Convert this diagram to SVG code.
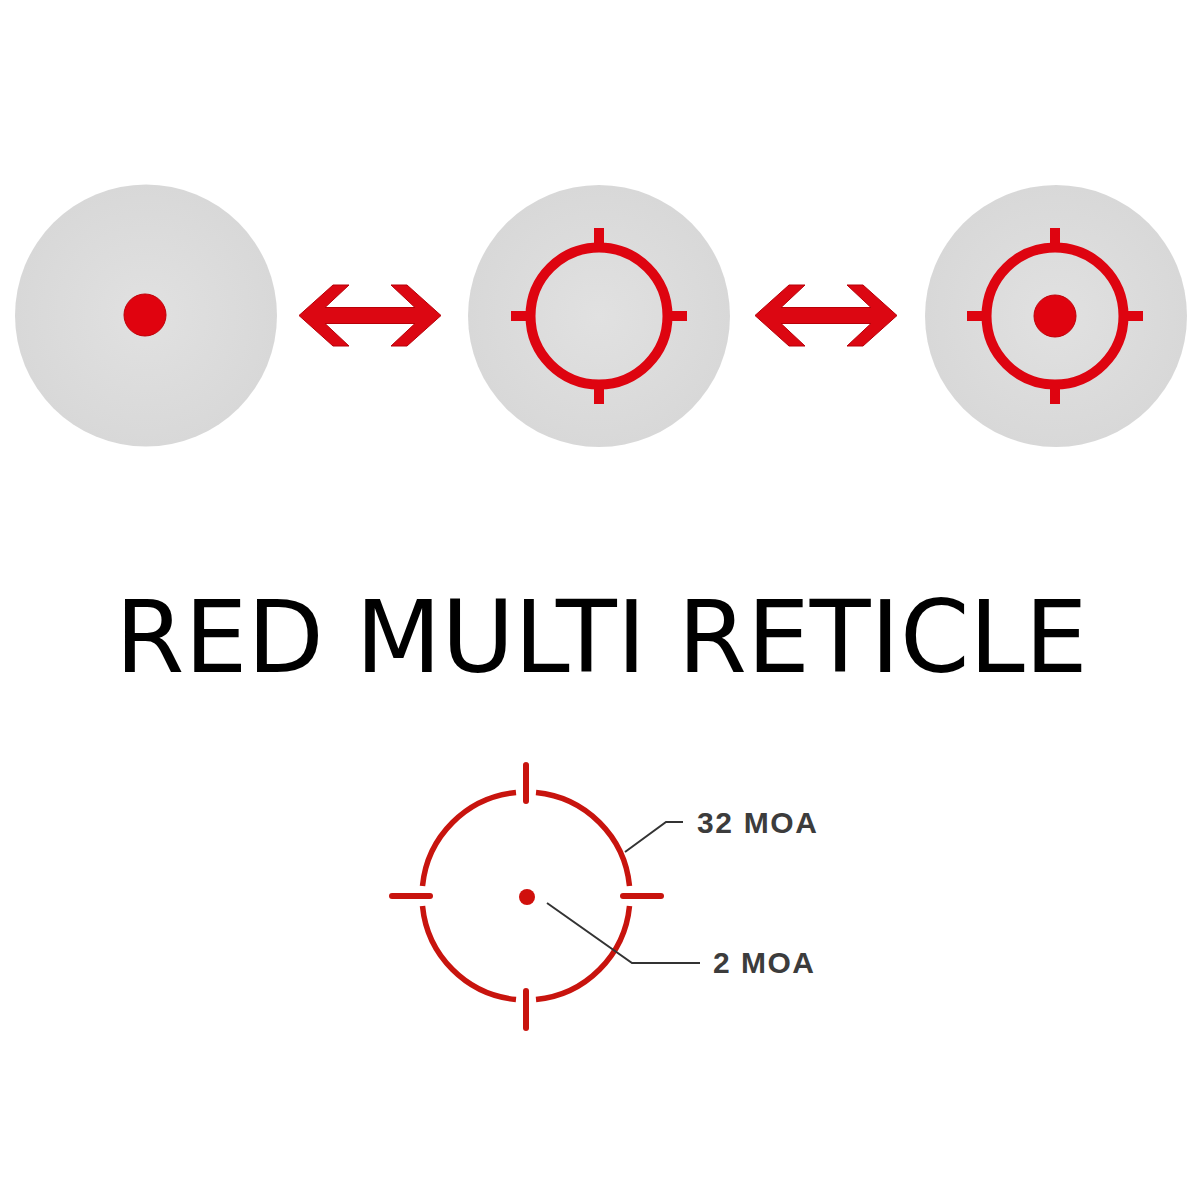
<svg xmlns="http://www.w3.org/2000/svg" width="1200" height="1200" viewBox="0 0 1200 1200">
  <defs>
    <radialGradient id="disc" cx="50%" cy="50%" r="50%">
      <stop offset="0%" stop-color="#e1e1e1"/>
      <stop offset="100%" stop-color="#d8d8d8"/>
    </radialGradient>
    <polygon id="arrow" points="0,0 34,-30.5 50,-30.5 26,-8 116,-8 92,-30.5 108,-30.5 142,0 108,30.5 92,30.5 116,8 26,8 50,30.5 34,30.5"/>
    <g id="reticle">
      <circle cx="0" cy="0" r="68.5" class="ring"/>
      <line x1="0" y1="-88" x2="0" y2="-66" class="tick"/>
      <line x1="0" y1="88" x2="0" y2="66" class="tick"/>
      <line x1="-88" y1="0" x2="-66" y2="0" class="tick"/>
      <line x1="88" y1="0" x2="66" y2="0" class="tick"/>
    </g>
  </defs>
  <style>
    .disc { fill: url(#disc); }
    .ring { fill: none; stroke: #de0410; stroke-width: 10; }
    .tick { stroke: #de0410; stroke-width: 10; stroke-linecap: butt; }
    .dot { fill: #e0030f; stroke: #c00008; stroke-width: 1; }
    .arrow { fill: #dc0712; stroke: #b80008; stroke-width: 1; stroke-linejoin: miter; }
    .title { font-family: "DejaVu Sans", "Liberation Sans", sans-serif; font-size: 99.5px; fill: #000; }
    .arc { fill: none; stroke: #c8140e; stroke-width: 5.5; }
    .btick { stroke: #c8140e; stroke-width: 6; stroke-linecap: round; }
    .leader { fill: none; stroke: #333; stroke-width: 2; }
    .label { font-family: "Liberation Sans", Arial, sans-serif; font-weight: bold; font-size: 30px; fill: #3c3c3c; }
  </style>
  <rect width="1200" height="1200" fill="#ffffff"/>

  <g id="view-dot">
    <circle cx="146" cy="315.5" r="131" class="disc"/>
    <circle cx="145" cy="315" r="21" class="dot"/>
  </g>

  <g id="view-circle">
    <circle cx="599" cy="316" r="131" class="disc"/>
    <use href="#reticle" x="599" y="316"/>
  </g>

  <g id="view-circle-dot">
    <circle cx="1056" cy="316" r="131" class="disc"/>
    <use href="#reticle" x="1055" y="316"/>
    <circle cx="1055" cy="316" r="21" class="dot"/>
  </g>

  <g id="connectors">
    <use href="#arrow" x="299" y="315.5" class="arrow"/>
    <use href="#arrow" x="755" y="315.5" class="arrow"/>
  </g>

  <g id="title">
    <text x="601.5" y="672" text-anchor="middle" class="title">RED MULTI RETICLE</text>
  </g>

  <g id="spec-reticle">
    <path class="arc" d="M536,792.5 A104,104 0 0 1 629.5,886"/>
    <path class="arc" d="M629.5,906 A104,104 0 0 1 536,999.5"/>
    <path class="arc" d="M516,999.5 A104,104 0 0 1 422.5,906"/>
    <path class="arc" d="M422.5,886 A104,104 0 0 1 516,792.5"/>
    <line x1="526" y1="765" x2="526" y2="801" class="btick"/>
    <line x1="526" y1="991" x2="526" y2="1028" class="btick"/>
    <line x1="392" y1="896" x2="430" y2="896" class="btick"/>
    <line x1="623" y1="896" x2="661" y2="896" class="btick"/>
    <circle cx="527" cy="897" r="8" fill="#d0100c"/>
  </g>

  <g id="labels">
    <polyline class="leader" points="625,852 666,822 683,822"/>
    <text x="697" y="833" class="label" textLength="120" lengthAdjust="spacing">32 MOA</text>
    <polyline class="leader" points="547,903 632,963 700,963"/>
    <text x="713" y="973" class="label" textLength="101" lengthAdjust="spacing">2 MOA</text>
  </g>
</svg>
